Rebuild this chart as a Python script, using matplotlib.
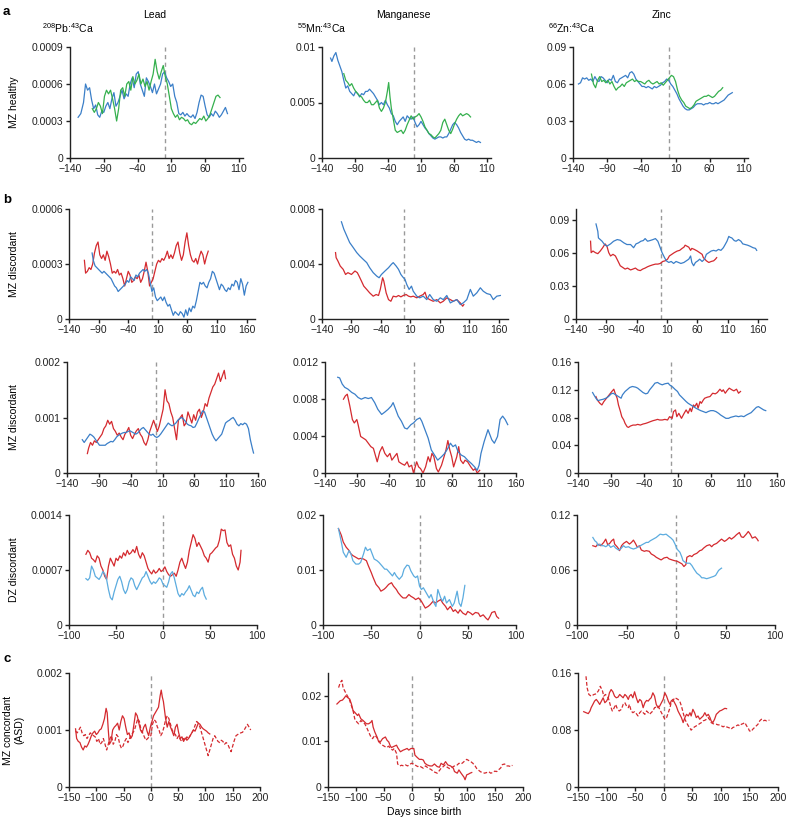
import matplotlib
matplotlib.use('Agg')
import matplotlib.pyplot as plt

plt.rcParams['font.family'] = ['Liberation Sans', 'DejaVu Sans']
plt.rcParams['mathtext.fontset'] = 'custom'
plt.rcParams['mathtext.rm'] = 'Liberation Sans'
plt.rcParams['mathtext.it'] = 'Liberation Sans:italic'
plt.rcParams['mathtext.bf'] = 'Liberation Sans:bold'

# ---------------- data ----------------
col_titles = ['Lead', 'Manganese', 'Zinc']
ion_labels = [r'$^{208}$Pb:$^{43}$Ca', r'$^{55}$Mn:$^{43}$Ca', r'$^{66}$Zn:$^{43}$Ca']
row_labels = ['MZ healthy', 'MZ discordant', 'MZ discordant', 'DZ discordant', 'MZ concordant\n(ASD)']
x_label = 'Days since birth'

xt_a = [-140, -90, -40, 10, 60, 110]
xt_b1 = [-140, -90, -40, 10, 60, 110, 160]
xt_b2 = [-140, -90, -40, 10, 60, 110, 160]
xt_b3 = [-100, -50, 0, 50, 100]
xt_c = [-150, -100, -50, 0, 50, 100, 150, 200]

yt_a_pb = ['0', '0.0003', '0.0006', '0.0009']
yt_a_mn = ['0', '0.005', '0.01']
yt_a_zn = ['0', '0.03', '0.06', '0.09']
yt_b1_pb = ['0', '0.0003', '0.0006']
yt_b1_mn = ['0', '0.004', '0.008']
yt_b1_zn = ['0', '0.03', '0.06', '0.09']
yt_b2_pb = ['0', '0.001', '0.002']
yt_b2_mn = ['0', '0.004', '0.008', '0.012']
yt_b2_zn = ['0', '0.04', '0.08', '0.12', '0.16']
yt_b3_pb = ['0', '0.0007', '0.0014']
yt_b3_mn = ['0', '0.01', '0.02']
yt_b3_zn = ['0', '0.06', '0.12']
yt_c_pb = ['0', '0.001', '0.002']
yt_c_mn = ['0', '0.01', '0.02']
yt_c_zn = ['0', '0.08', '0.16']

# row a: MZ healthy (blue / green twin)
a_pb_blue = [(-128,.00033),(-124,.00036),(-120,.00045),(-117,.00060),(-114,.00055),(-111,.00057),(-108,.00047),(-105,.00040),(-102,.00043),(-99,.00035),(-96,.00033),(-93,.00038),(-90,.00037),(-87,.00042),(-84,.00045),(-81,.00040),(-78,.00048),(-75,.00053),(-72,.00042),(-69,.00045),(-66,.00050),(-63,.00055),(-60,.00048),(-57,.00052),(-54,.00050),(-51,.00060),(-48,.00065),(-45,.00057),(-42,.00068),(-39,.00070),(-36,.00060),(-33,.00055),(-30,.00050),(-27,.00065),(-24,.00062),(-21,.00058),(-18,.00053),(-15,.00060),(-12,.00052),(-9,.00056),(-6,.00060),(-3,.00068),(0,.00070),(3,.00065),(6,.00062),(9,.00058),(12,.00060),(15,.00050),(18,.00045),(21,.00036),(24,.00035),(27,.00037),(30,.00034),(33,.00036),(36,.00034),(39,.00033),(42,.00035),(45,.00032),(48,.00037),(51,.00045),(54,.00051),(57,.00050),(60,.00042),(63,.00035),(66,.00033),(69,.00036),(72,.00034),(75,.00038),(78,.00036),(81,.00033),(84,.00035),(87,.00038),(90,.00041),(93,.00036)]
a_pb_green = [(-107,.00040),(-104,.00037),(-101,.00040),(-98,.00045),(-95,.00042),(-92,.00036),(-89,.00050),(-86,.00055),(-83,.00052),(-80,.00055),(-77,.00048),(-74,.00040),(-71,.00030),(-68,.00040),(-65,.00055),(-62,.00057),(-59,.00050),(-56,.00060),(-53,.00062),(-50,.00055),(-47,.00066),(-44,.00060),(-41,.00063),(-38,.00068),(-35,.00060),(-32,.00064),(-29,.00058),(-26,.00062),(-23,.00055),(-20,.00062),(-17,.00068),(-14,.00080),(-11,.00070),(-8,.00064),(-5,.00070),(-2,.00075),(1,.00066),(4,.00060),(7,.00050),(10,.00040),(13,.00036),(16,.00033),(19,.00035),(22,.00031),(25,.00033),(28,.00032),(31,.00030),(34,.00031),(37,.00028),(40,.00027),(43,.00029),(46,.00028),(49,.00030),(52,.00032),(55,.00031),(58,.00034),(61,.00030),(64,.00032),(67,.00035),(70,.00040),(73,.00045),(76,.00050),(79,.00051),(82,.00049)]
a_mn_blue = [(-127,.0090),(-125,.0087),(-122,.0092),(-119,.0095),(-116,.0088),(-113,.0083),(-110,.0078),(-107,.0070),(-104,.0063),(-101,.0065),(-98,.0060),(-95,.0058),(-92,.0056),(-89,.0060),(-86,.0058),(-83,.0055),(-80,.0058),(-77,.0057),(-74,.0060),(-71,.0060),(-68,.0062),(-65,.0060),(-62,.0058),(-59,.0055),(-56,.0052),(-53,.0048),(-50,.0050),(-47,.0048),(-44,.0052),(-41,.0048),(-38,.0045),(-35,.0040),(-32,.0038),(-29,.0033),(-26,.0030),(-23,.0033),(-20,.0035),(-17,.0037),(-14,.0033),(-11,.0038),(-8,.0036),(-5,.0035),(-2,.0037),(1,.0032),(4,.0028),(7,.0030),(10,.0033),(13,.0030),(16,.0027),(19,.0025),(22,.0022),(25,.0020),(28,.0018),(31,.0017),(34,.0018),(37,.0019),(40,.0019),(43,.0018),(46,.0019),(49,.0019),(52,.0022),(55,.0026),(58,.0030),(61,.0032),(64,.0030),(67,.0027),(70,.0023),(73,.0020),(76,.0017),(79,.0016),(82,.0017),(85,.0016),(88,.0016),(91,.0015),(94,.0014),(97,.0015),(100,.0014)]
a_mn_green = [(-107,.0076),(-104,.0070),(-101,.0068),(-98,.0065),(-95,.0067),(-92,.0063),(-89,.0060),(-86,.0058),(-83,.0056),(-80,.0055),(-77,.0052),(-74,.0050),(-71,.0050),(-68,.0052),(-65,.0048),(-62,.0048),(-59,.0050),(-56,.0052),(-53,.0045),(-50,.0042),(-47,.0045),(-44,.0050),(-41,.0060),(-39,.0068),(-37,.0055),(-35,.0045),(-32,.0035),(-29,.0025),(-26,.0023),(-23,.0024),(-20,.0025),(-17,.0022),(-14,.0025),(-11,.0030),(-8,.0034),(-5,.0038),(-2,.0035),(1,.0037),(4,.0038),(7,.0040),(10,.0037),(13,.0033),(16,.0028),(19,.0025),(22,.0022),(25,.0021),(28,.0019),(31,.0018),(34,.0020),(37,.0022),(40,.0025),(43,.0032),(46,.0035),(49,.0030),(52,.0025),(55,.0022),(58,.0026),(61,.0031),(64,.0035),(67,.0038),(70,.0040),(73,.0038),(76,.0039),(79,.0040),(82,.0039),(85,.0037)]
a_zn_blue = [(-132,.060),(-129,.061),(-126,.065),(-123,.064),(-120,.065),(-117,.063),(-114,.064),(-111,.062),(-108,.066),(-105,.063),(-102,.062),(-99,.066),(-96,.065),(-93,.063),(-90,.061),(-87,.064),(-84,.063),(-81,.067),(-78,.062),(-75,.061),(-72,.064),(-69,.065),(-66,.066),(-63,.067),(-60,.065),(-57,.069),(-54,.070),(-51,.068),(-48,.064),(-45,.062),(-42,.060),(-39,.058),(-36,.058),(-33,.057),(-30,.058),(-27,.057),(-24,.056),(-21,.058),(-18,.057),(-15,.058),(-12,.059),(-9,.061),(-6,.062),(-3,.064),(0,.063),(3,.060),(6,.058),(9,.055),(12,.052),(15,.048),(18,.045),(21,.042),(24,.040),(27,.039),(30,.039),(33,.040),(36,.041),(39,.043),(42,.044),(45,.044),(48,.044),(51,.043),(54,.044),(57,.044),(60,.045),(63,.044),(66,.044),(69,.045),(72,.044),(75,.045),(78,.046),(81,.047),(84,.049),(87,.051),(90,.052),(93,.053)]
a_zn_green = [(-113,.068),(-110,.060),(-107,.057),(-104,.063),(-101,.066),(-98,.062),(-95,.063),(-92,.061),(-89,.063),(-86,.060),(-83,.062),(-80,.058),(-77,.055),(-74,.057),(-71,.058),(-68,.060),(-65,.058),(-62,.061),(-59,.062),(-56,.063),(-53,.064),(-50,.062),(-47,.063),(-44,.062),(-41,.062),(-38,.061),(-35,.060),(-32,.062),(-29,.063),(-26,.061),(-23,.060),(-20,.061),(-17,.062),(-14,.060),(-11,.061),(-8,.059),(-5,.061),(-2,.063),(1,.065),(4,.067),(7,.066),(10,.062),(13,.055),(16,.050),(19,.047),(22,.045),(25,.042),(28,.041),(31,.040),(34,.041),(37,.043),(40,.046),(43,.047),(46,.048),(49,.049),(52,.050),(55,.050),(58,.051),(61,.050),(64,.049),(67,.050),(70,.052),(73,.054),(76,.055),(79,.057)]

# row b1: MZ discordant pair 1 (red / blue)
b1_pb_red = [(-114,.00032),(-112,.00025),(-109,.00026),(-106,.00028),(-103,.00027),(-100,.00030),(-97,.00036),(-94,.00040),(-91,.00042),(-88,.00035),(-85,.00033),(-82,.00035),(-79,.00032),(-76,.00037),(-73,.00034),(-70,.00030),(-67,.00025),(-64,.00026),(-61,.00025),(-58,.00027),(-55,.00024),(-52,.00025),(-49,.00022),(-46,.00018),(-43,.00022),(-40,.00026),(-37,.00024),(-34,.00020),(-31,.00021),(-28,.00023),(-25,.00022),(-22,.00024),(-19,.00020),(-16,.00022),(-13,.00026),(-10,.00031),(-7,.00026),(-4,.00018),(-1,.00020),(2,.00022),(5,.00026),(8,.00030),(11,.00032),(14,.00031),(17,.00033),(20,.00032),(23,.00034),(26,.00037),(29,.00033),(32,.00035),(35,.00033),(38,.00036),(41,.00040),(44,.00042),(47,.00036),(50,.00032),(53,.00035),(56,.00042),(59,.00047),(62,.00040),(65,.00035),(68,.00032),(71,.00031),(74,.00033),(77,.00030),(80,.00034),(83,.00037),(86,.00035),(89,.00030),(92,.00034),(95,.00037)]
b1_pb_blue = [(-101,.00036),(-99,.00032),(-96,.00029),(-93,.00028),(-90,.00027),(-87,.00026),(-84,.00025),(-81,.00026),(-78,.00025),(-75,.00024),(-72,.00023),(-69,.00022),(-66,.00020),(-63,.00018),(-60,.00017),(-57,.00015),(-54,.00016),(-51,.00017),(-48,.00018),(-45,.00019),(-42,.00021),(-39,.00020),(-36,.00023),(-33,.00022),(-30,.00021),(-27,.00024),(-24,.00023),(-21,.00025),(-18,.00026),(-15,.00027),(-12,.00026),(-9,.00027),(-6,.00025),(-3,.00020),(0,.00015),(3,.00017),(6,.00012),(9,.00010),(12,.00011),(15,.00012),(18,.00010),(21,.00012),(24,.00009),(27,.00007),(30,.00008),(33,.00005),(36,.00002),(39,.00004),(42,.00003),(45,.00002),(48,.00004),(51,.00003),(54,.00001),(57,.00005),(60,.00002),(63,.00006),(66,.00004),(69,.00007),(72,.00006),(75,.00010),(78,.00015),(81,.00020),(84,.00019),(87,.00020),(90,.00018),(93,.00017),(96,.00020),(99,.00022),(102,.00026),(105,.00025),(108,.00022),(111,.00019),(114,.00016),(117,.00019),(120,.00018),(123,.00016),(126,.00015),(129,.00017),(132,.00016),(135,.00019),(138,.00018),(141,.00021),(144,.00020),(147,.00016),(150,.00022),(153,.00019),(156,.00013),(159,.00018),(162,.00020)]
b1_mn_red = [(-117,.00483),(-116,.00446),(-113,.00422),(-109,.00385),(-104,.00361),(-100,.00324),(-96,.00337),(-90,.00324),(-84,.00349),(-80,.00337),(-77,.00312),(-73,.00276),(-69,.00239),(-64,.00215),(-59,.0019),(-53,.00166),(-48,.00178),(-44,.00171),(-41,.00215),(-37,.0030),(-35,.00276),(-31,.0019),(-27,.00141),(-23,.00129),(-19,.00166),(-14,.00161),(-10,.00171),(-6,.00161),(-2,.00171),(3,.00178),(7,.00166),(11,.00161),(15,.00166),(21,.00154),(26,.00166),(32,.00178),(35,.00195),(38,.00154),(43,.00141),(49,.00129),(55,.00141),(61,.00117),(66,.00129),(72,.00154),(78,.00141),(83,.00129),(89,.00141),(95,.00117),(99,.00093),(101,.00105)]
b1_mn_blue = [(-107,.00707),(-103,.00654),(-98,.00605),(-93,.00556),(-87,.0052),(-81,.00483),(-76,.00459),(-70,.00434),(-64,.0041),(-59,.00373),(-53,.00337),(-47,.00312),(-43,.0030),(-39,.00324),(-33,.00349),(-27,.00373),(-22,.00398),(-19,.0041),(-14,.00385),(-10,.00361),(-6,.00324),(-3,.00307),(1,.00288),(4,.00251),(8,.00215),(12,.00239),(15,.00202),(21,.00166),(26,.00154),(32,.00166),(38,.00141),(43,.00178),(49,.00141),(55,.00129),(61,.00154),(66,.00141),(72,.00171),(78,.00117),(83,.00129),(89,.00141),(95,.00105),(100,.00117),(106,.00141),(112,.00215),(117,.00166),(123,.0019),(129,.00227),(134,.00202),(140,.00185),(146,.00178),(151,.00141),(157,.00166),(163,.00171)]
b1_zn_red = [(-116,.0707),(-115,.0603),(-112,.0618),(-108,.0603),(-104,.0594),(-100,.0618),(-96,.0648),(-92,.0683),(-89,.0662),(-86,.0603),(-83,.0573),(-79,.0588),(-75,.0573),(-71,.0529),(-67,.0484),(-63,.0469),(-59,.0454),(-55,.0463),(-50,.0446),(-46,.0454),(-42,.0463),(-38,.0446),(-34,.044),(-30,.0454),(-26,.0463),(-22,.0475),(-18,.0484),(-13,.0493),(-9,.0499),(-5,.0499),(-1,.0505),(3,.0523),(7,.0529),(11,.0544),(14,.0573),(18,.0588),(22,.0603),(27,.0618),(31,.0624),(35,.0642),(38,.0653),(40,.0671),(43,.0662),(46,.0653),(49,.0624),(51,.0642),(55,.0633),(60,.0618),(64,.0603),(68,.0588),(70,.0558),(75,.0529),(79,.0514),(83,.0523),(87,.0529),(90,.0544),(92,.0558)]
b1_zn_blue = [(-107,.0864),(-104,.0796),(-103,.0737),(-100,.0722),(-97,.0707),(-93,.0677),(-89,.0662),(-83,.0683),(-78,.0707),(-72,.0722),(-67,.0716),(-61,.0692),(-56,.0677),(-50,.0677),(-45,.0648),(-41,.0683),(-37,.0692),(-33,.0707),(-29,.0713),(-26,.0731),(-22,.0707),(-18,.0713),(-13,.0722),(-9,.0731),(-5,.0707),(-2,.0662),(2,.0603),(6,.0558),(9,.0529),(13,.0514),(17,.0523),(21,.0505),(25,.0523),(29,.0514),(33,.0505),(38,.0514),(42,.0529),(46,.0544),(49,.0573),(51,.0514),(54,.0484),(57,.0514),(61,.0529),(64,.0544),(68,.0523),(72,.0544),(75,.0588),(79,.0603),(83,.0618),(87,.0624),(91,.0618),(95,.0633),(99,.0624),(103,.0648),(106,.0677),(109,.0707),(112,.0751),(114,.0743),(117,.0737),(121,.0713),(124,.0707),(128,.0722),(132,.0707),(135,.0683),(139,.0677),(143,.0671),(147,.0662),(152,.0648),(156,.0642),(158,.0624)]

# row b2: MZ discordant pair 2 (red / blue)
b2_pb_red = [(-108,.00035),(-106,.00045),(-103,.00055),(-100,.00050),(-97,.00058),(-94,.00055),(-91,.00060),(-88,.00065),(-85,.00070),(-82,.00080),(-79,.00085),(-76,.00095),(-73,.00088),(-70,.00093),(-67,.00080),(-64,.00075),(-61,.00068),(-58,.00072),(-55,.00065),(-52,.00060),(-49,.00070),(-46,.00075),(-43,.00082),(-40,.00068),(-37,.00062),(-34,.00070),(-31,.00076),(-28,.00080),(-25,.00070),(-22,.00065),(-19,.00055),(-16,.00050),(-13,.00060),(-10,.00075),(-7,.00085),(-4,.00095),(-1,.00085),(2,.00075),(5,.00085),(8,.00100),(11,.00115),(14,.00150),(17,.00130),(20,.00125),(23,.00110),(26,.00100),(29,.00080),(32,.00060),(35,.00095),(38,.00100),(41,.00105),(44,.00085),(47,.00090),(50,.00110),(53,.00100),(56,.00090),(59,.00105),(62,.00095),(65,.00110),(68,.00115),(71,.00100),(74,.00110),(77,.00125),(80,.00120),(83,.00135),(86,.00145),(89,.00155),(92,.00160),(95,.00170),(98,.00180),(101,.00165),(104,.00175),(107,.00185),(109,.00170)]
b2_pb_blue = [(-116,.00060),(-113,.00055),(-110,.00060),(-107,.00065),(-104,.00070),(-101,.00068),(-98,.00065),(-95,.00060),(-92,.00055),(-89,.00050),(-86,.00050),(-83,.00050),(-80,.00050),(-77,.00053),(-74,.00055),(-71,.00057),(-68,.00056),(-65,.00060),(-62,.00065),(-59,.00068),(-56,.00070),(-53,.00072),(-50,.00073),(-47,.00073),(-44,.00075),(-41,.00076),(-38,.00074),(-35,.00072),(-32,.00070),(-29,.00072),(-26,.00076),(-23,.00080),(-20,.00082),(-17,.00078),(-14,.00074),(-11,.00070),(-8,.00068),(-5,.00070),(-2,.00066),(1,.00064),(4,.00066),(7,.00070),(10,.00075),(13,.00080),(16,.00085),(19,.00090),(22,.00087),(25,.00085),(28,.00087),(31,.00090),(34,.00095),(37,.00098),(40,.00100),(43,.00097),(46,.00093),(49,.00088),(52,.00086),(55,.00085),(58,.00082),(61,.00083),(64,.00090),(67,.00098),(70,.00105),(73,.00112),(76,.00110),(79,.00100),(82,.00090),(85,.00080),(88,.00070),(91,.00063),(94,.00058),(97,.00062),(100,.00066),(103,.00070),(106,.00080),(109,.00090),(112,.00093),(115,.00095),(118,.00098),(121,.00100),(124,.00095),(127,.00088),(130,.00085),(133,.00089),(136,.00087),(139,.00090),(142,.00088),(145,.00080),(148,.00060),(151,.00045),(153,.00036)]
b2_mn_red = [(-111,.00798),(-108,.00834),(-105,.00852),(-101,.00724),(-97,.00578),(-94,.00541),(-90,.00578),(-88,.00523),(-84,.00395),(-80,.00377),(-76,.00359),(-72,.00322),(-68,.00285),(-64,.00267),(-61,.00194),(-58,.00121),(-54,.0023),(-50,.00285),(-46,.00212),(-42,.00176),(-38,.00212),(-35,.00139),(-31,.00176),(-27,.00212),(-24,.00121),(-20,.00102),(-15,.00084),(-11,.00121),(-8,.00066),(-4,.00084),(-1,.0),(1,.00048),(4,.00121),(7,.00066),(10,.00048),(14,.0),(18,.00066),(22,.00176),(25,.00121),(28,.00212),(31,.00176),(35,.00048),(38,.00011),(43,.00084),(47,.00176),(50,.00249),(53,.00351),(56,.00249),(59,.00176),(62,.00066),(67,.00176),(70,.00285),(73,.00139),(77,.00102),(80,.00139),(84,.00121),(89,.00066),(93,.00029),(96,.00048),(99,.0),(103,.00029)]
b2_mn_blue = [(-120,.01035),(-117,.01028),(-113,.00962),(-109,.00926),(-104,.00907),(-98,.00871),(-93,.00852),(-88,.00816),(-83,.00798),(-77,.00816),(-72,.00805),(-67,.00816),(-62,.00761),(-57,.00688),(-51,.00633),(-46,.00659),(-41,.00688),(-36,.00724),(-33,.00761),(-29,.00688),(-25,.00615),(-20,.0056),(-15,.00487),(-11,.00476),(-5,.00523),(-1,.00541),(4,.00578),(9,.00596),(12,.0056),(17,.00468),(22,.00377),(27,.00249),(32,.00194),(37,.00139),(43,.00176),(48,.00212),(53,.00267),(57,.00322),(61,.00285),(65,.00304),(69,.0023),(74,.00194),(79,.00176),(84,.00139),(90,.00102),(95,.00066),(99,.00029),(102,.00084),(105,.00212),(110,.0034),(116,.00468),(118,.00432),(122,.00359),(126,.00322),(131,.00395),(135,.00578),(139,.00615),(143,.00578),(147,.00523)]
b2_zn_red = [(-113,.1102),(-111,.1054),(-107,.1005),(-104,.0981),(-101,.1030),(-97,.1078),(-93,.1126),(-89,.1175),(-86,.1208),(-84,.1150),(-81,.1078),(-79,.0981),(-76,.0885),(-74,.0812),(-71,.0764),(-69,.0715),(-66,.0667),(-64,.0657),(-61,.0677),(-57,.0691),(-53,.0691),(-50,.0701),(-46,.0691),(-42,.0706),(-38,.0715),(-35,.0725),(-31,.0740),(-27,.0754),(-23,.0764),(-20,.0773),(-17,.0764),(-13,.0764),(-9,.0773),(-5,.0764),(-2,.0812),(2,.0788),(4,.0885),(7,.0909),(9,.0812),(12,.0860),(16,.0788),(20,.0860),(23,.0909),(26,.0860),(29,.0933),(31,.0885),(34,.0981),(36,.0957),(39,.1005),(41,.0933),(44,.1030),(46,.1005),(49,.1054),(51,.1078),(55,.1093),(59,.1102),(63,.1150),(67,.1141),(70,.1160),(74,.1208),(77,.1175),(79,.1199),(82,.1150),(85,.1190),(88,.1223),(92,.1199),(95,.1184),(99,.1208),(102,.1150),(105,.1175)]
b2_zn_blue = [(-118,.1160),(-116,.1126),(-113,.1078),(-110,.1044),(-106,.1054),(-102,.1063),(-98,.1078),(-94,.1102),(-90,.1141),(-87,.1150),(-83,.1126),(-79,.1102),(-75,.1078),(-73,.1126),(-69,.1175),(-65,.1208),(-62,.1233),(-58,.1247),(-53,.1237),(-50,.1223),(-47,.1199),(-42,.1160),(-38,.1141),(-35,.1150),(-32,.1199),(-27,.1257),(-24,.1295),(-20,.1305),(-17,.1286),(-13,.1271),(-9,.1286),(-4,.1295),(-2,.1271),(3,.1237),(6,.1208),(10,.1175),(13,.1126),(18,.1078),(23,.1030),(26,.1005),(30,.0981),(34,.0957),(38,.0933),(41,.0918),(45,.0899),(49,.0885),(53,.0870),(56,.0885),(60,.0899),(64,.0899),(68,.0885),(72,.0860),(75,.0836),(79,.0812),(83,.0788),(87,.0788),(90,.0802),(94,.0812),(98,.0822),(102,.0812),(106,.0822),(110,.0812),(114,.0836),(117,.0851),(121,.0870),(125,.0909),(129,.0947),(132,.0957),(136,.0933),(140,.0909),(143,.0899)]

# row b3: DZ discordant (red / light blue)
b3_pb_red = [(-82,.00090),(-80,.00095),(-78,.00092),(-76,.00085),(-74,.00083),(-72,.00080),(-70,.00088),(-68,.00085),(-66,.00075),(-64,.00070),(-62,.00062),(-60,.00058),(-58,.00075),(-56,.00085),(-54,.00080),(-52,.00075),(-50,.00085),(-48,.00082),(-46,.00088),(-44,.00085),(-42,.00092),(-40,.00088),(-38,.00095),(-36,.00090),(-34,.00092),(-32,.00096),(-30,.00092),(-28,.00100),(-26,.00090),(-24,.00085),(-22,.00092),(-20,.00088),(-18,.00080),(-16,.00072),(-14,.00068),(-12,.00065),(-10,.00070),(-8,.00066),(-6,.00068),(-4,.00072),(-2,.00068),(0,.00070),(2,.00074),(4,.00068),(6,.00064),(8,.00062),(10,.00064),(12,.00066),(14,.00062),(16,.00070),(18,.00080),(20,.00085),(22,.00078),(24,.00072),(26,.00080),(28,.00095),(30,.00105),(32,.00115),(34,.00110),(36,.00100),(38,.00105),(40,.00100),(42,.00095),(44,.00088),(46,.00085),(48,.00080),(50,.00090),(52,.00092),(54,.00095),(56,.00098),(58,.00100),(60,.00108),(62,.00122),(64,.00120),(66,.00121),(68,.00105),(70,.00100),(72,.00102),(74,.00090),(76,.00085),(78,.00075),(80,.00070),(82,.00080),(83,.00095)]
b3_pb_blue = [(-82,.00059),(-80,.00057),(-78,.00060),(-76,.00075),(-74,.00070),(-72,.00062),(-70,.00060),(-68,.00058),(-66,.00062),(-64,.00068),(-62,.00065),(-60,.00058),(-58,.00045),(-56,.00035),(-54,.00032),(-52,.00042),(-50,.00050),(-48,.00058),(-46,.00062),(-44,.00055),(-42,.00045),(-40,.00040),(-38,.00045),(-36,.00055),(-34,.00060),(-32,.00058),(-30,.00050),(-28,.00045),(-26,.00050),(-24,.00055),(-22,.00060),(-20,.00062),(-18,.00068),(-16,.00062),(-14,.00056),(-12,.00052),(-10,.00055),(-8,.00053),(-6,.00056),(-4,.00060),(-2,.00058),(0,.00052),(2,.00050),(4,.00048),(6,.00055),(8,.00065),(10,.00068),(12,.00060),(14,.00050),(16,.00040),(18,.00036),(20,.00040),(22,.00038),(24,.00042),(26,.00045),(28,.00050),(30,.00044),(32,.00038),(34,.00036),(36,.00042),(38,.00040),(40,.00045),(42,.00048),(44,.00038),(46,.00033)]
b3_mn_red = [(-84,.01754),(-81,.01631),(-79,.01508),(-76,.01415),(-73,.01354),(-71,.01292),(-69,.01262),(-66,.01231),(-63,.012),(-61,.01212),(-58,.012),(-55,.01169),(-53,.01077),(-50,.00954),(-48,.00862),(-45,.00738),(-42,.00677),(-40,.00615),(-37,.00646),(-35,.00677),(-32,.00738),(-29,.00769),(-27,.00708),(-24,.00646),(-22,.00585),(-19,.00523),(-17,.00492),(-14,.00492),(-11,.00554),(-9,.00523),(-6,.00492),(-4,.00462),(-1,.00492),(2,.00431),(4,.00369),(6,.00308),(9,.00338),(11,.00369),(14,.00431),(17,.004),(19,.00431),(22,.00462),(24,.004),(27,.00338),(29,.00277),(32,.00338),(35,.00246),(37,.00277),(40,.00215),(42,.00277),(45,.00215),(48,.00185),(50,.00246),(53,.00215),(55,.00185),(58,.00228),(61,.00215),(63,.00154),(66,.00185),(69,.00123),(71,.00092),(73,.00154),(75,.00228),(78,.00246),(80,.00154),(82,.00123)]
b3_mn_blue = [(-84,.01754),(-81,.01508),(-79,.01323),(-76,.01231),(-73,.01354),(-71,.01292),(-69,.01169),(-66,.01108),(-63,.01108),(-61,.01138),(-58,.01292),(-56,.01415),(-54,.01354),(-51,.01385),(-49,.01292),(-47,.012),(-44,.01169),(-42,.01138),(-39,.01077),(-36,.01015),(-34,.01015),(-31,.00954),(-28,.00892),(-26,.00954),(-24,.00892),(-21,.00831),(-18,.00892),(-16,.01015),(-13,.01089),(-11,.01077),(-9,.00985),(-6,.00892),(-4,.00862),(-2,.00892),(0,.00708),(2,.00646),(4,.00677),(7,.00585),(10,.00492),(12,.00554),(15,.004),(17,.00338),(19,.00646),(22,.00492),(24,.00431),(26,.00523),(28,.004),(31,.00462),(34,.00338),(36,.004),(39,.00615),(41,.004),(43,.00338),(45,.00492),(47,.0072)]
b3_zn_red = [(-84,.0865),(-81,.0854),(-79,.0883),(-76,.0865),(-73,.0901),(-71,.0937),(-69,.0876),(-67,.0890),(-65,.0919),(-63,.0937),(-62,.0883),(-59,.0847),(-57,.0811),(-55,.0865),(-53,.0890),(-50,.0912),(-47,.0883),(-45,.0901),(-43,.0926),(-41,.0890),(-39,.0847),(-37,.0865),(-35,.0818),(-32,.0804),(-30,.0811),(-27,.0804),(-25,.0775),(-22,.0757),(-20,.0739),(-17,.0721),(-15,.0710),(-12,.0732),(-9,.0739),(-7,.0721),(-4,.0710),(-2,.0703),(1,.0696),(3,.0685),(6,.0667),(8,.0638),(10,.0659),(11,.0739),(14,.0757),(16,.0746),(18,.0768),(21,.0782),(24,.0811),(26,.0818),(28,.0840),(31,.0865),(34,.0876),(36,.0854),(38,.0876),(41,.0890),(44,.0919),(46,.0937),(49,.0912),(51,.0926),(54,.0955),(56,.0937),(59,.0962),(61,.0984),(64,.1009),(66,.0962),(68,.0955),(71,.0991),(73,.1020),(75,.0991),(77,.0948),(80,.0962),(82,.0937),(83,.0919)]
b3_zn_blue = [(-84,.0955),(-82,.0919),(-80,.0901),(-79,.0865),(-77,.0883),(-75,.0865),(-73,.0865),(-71,.0854),(-68,.0876),(-66,.0847),(-63,.0865),(-61,.0840),(-58,.0818),(-56,.0829),(-53,.0865),(-51,.0847),(-48,.0854),(-46,.0840),(-43,.0829),(-40,.0840),(-38,.0854),(-36,.0865),(-33,.0883),(-30,.0901),(-28,.0901),(-26,.0919),(-23,.0937),(-20,.0955),(-18,.0973),(-16,.0991),(-13,.0984),(-10,.0991),(-8,.0973),(-5,.0948),(-3,.0926),(-1,.0883),(1,.0829),(4,.0793),(6,.0739),(7,.0703),(9,.0685),(11,.0674),(14,.0674),(16,.0649),(18,.0613),(21,.0566),(24,.0541),(26,.0515),(28,.0515),(31,.0505),(34,.0515),(36,.0523),(38,.0530),(40,.0541),(43,.0595),(45,.0613),(46,.0620)]

# row c: MZ concordant ASD (solid / dashed red)
c_pb_solid = [(-138,.00102),(-136,.00085),(-133,.00080),(-130,.00078),(-127,.00070),(-124,.00065),(-121,.00072),(-118,.00070),(-115,.00075),(-112,.00082),(-109,.00090),(-106,.00095),(-103,.00098),(-100,.00092),(-97,.00095),(-94,.00100),(-91,.00102),(-88,.00110),(-85,.00120),(-82,.00138),(-80,.00130),(-78,.00100),(-76,.00075),(-73,.00080),(-70,.00100),(-67,.00105),(-64,.00108),(-61,.00112),(-58,.00100),(-55,.00115),(-52,.00125),(-49,.00120),(-46,.00105),(-43,.00092),(-40,.00095),(-37,.00085),(-34,.00090),(-31,.00110),(-28,.00130),(-25,.00125),(-22,.00112),(-19,.00100),(-16,.00095),(-13,.00105),(-10,.00110),(-7,.00098),(-4,.00090),(-1,.00105),(2,.00115),(5,.00125),(8,.00130),(11,.00135),(14,.00140),(17,.00160),(19,.00170),(21,.00158),(23,.00150),(25,.00135),(27,.00120),(30,.00105),(33,.00115),(36,.00105),(39,.00098),(42,.00090),(45,.00105),(48,.00110),(51,.00095),(54,.00085),(57,.00088),(60,.00080),(63,.00086),(66,.00082),(69,.00085),(72,.00090),(75,.00095),(78,.00100),(81,.00098),(84,.00105),(87,.00112),(90,.00110),(93,.00105),(96,.00102),(99,.00100),(102,.00098),(105,.00095),(108,.00093)]
c_pb_dashed = [(-138,.00098),(-135,.00095),(-132,.00100),(-129,.00105),(-126,.00095),(-123,.00090),(-120,.00092),(-117,.00085),(-114,.00090),(-111,.00095),(-108,.00092),(-105,.00090),(-102,.00088),(-99,.00080),(-96,.00085),(-93,.00075),(-90,.00078),(-87,.00085),(-84,.00075),(-81,.00065),(-78,.00075),(-75,.00085),(-72,.00090),(-69,.00075),(-66,.00080),(-63,.00092),(-60,.00088),(-57,.00075),(-54,.00068),(-51,.00072),(-48,.00080),(-45,.00085),(-42,.00078),(-39,.00085),(-36,.00092),(-33,.00095),(-30,.00100),(-27,.00110),(-24,.00120),(-21,.00115),(-18,.00100),(-15,.00095),(-12,.00088),(-9,.00082),(-6,.00085),(-3,.00088),(0,.00090),(3,.00110),(6,.00118),(9,.00115),(12,.00105),(15,.00100),(18,.00090),(21,.00095),(24,.00105),(27,.00118),(30,.00125),(33,.00120),(36,.00110),(39,.00100),(42,.00095),(45,.00092),(48,.00085),(51,.00090),(54,.00083),(57,.00080),(60,.00085),(63,.00082),(66,.00088),(69,.00085),(72,.00090),(75,.00095),(78,.00100),(81,.00108),(84,.00115),(87,.00112),(90,.00105),(93,.00095),(96,.00085),(99,.00075),(102,.00065),(105,.00055),(108,.00065),(111,.00075),(114,.00085),(117,.00090),(120,.00085),(123,.00080),(126,.00078),(129,.00082),(132,.00080),(135,.00075),(138,.00078),(141,.00075),(144,.00068),(147,.00062),(150,.00072),(153,.00082),(156,.00090),(159,.00092),(162,.00094),(165,.00095),(168,.00096),(171,.00100),(174,.00105),(177,.00110),(180,.00105),(183,.00100)]
c_mn_solid = [(-134,.0182),(-131,.01856),(-128,.01892),(-124,.01906),(-121,.01949),(-118,.0200),(-115,.01964),(-111,.01928),(-108,.0182),(-105,.01675),(-102,.01639),(-97,.01567),(-95,.01603),(-91,.01495),(-87,.01458),(-84,.01422),(-81,.01386),(-77,.01386),(-73,.01422),(-71,.01458),(-69,.01314),(-66,.01206),(-62,.01097),(-59,.00989),(-56,.00989),(-52,.01061),(-47,.01097),(-44,.01025),(-41,.00989),(-38,.00895),(-36,.00866),(-31,.00895),(-27,.00917),(-25,.00866),(-20,.00773),(-15,.00809),(-12,.00823),(-8,.00845),(-5,.00809),(-1,.00845),(4,.00845),(6,.0070),(10,.0065),(14,.00606),(18,.00606),(21,.00592),(24,.0052),(28,.00484),(33,.00462),(37,.00462),(41,.00505),(46,.00448),(50,.00433),(53,.0052),(57,.00484),(61,.00556),(65,.00484),(70,.00462),(75,.00412),(77,.00339),(82,.00303),(85,.00375),(88,.00318),(91,.00267),(94,.00217),(96,.00159),(99,.00267),(102,.00282),(105,.00303),(108,.00318)]
c_mn_dashed = [(-131,.0218),(-128,.02289),(-125,.02339),(-123,.0218),(-120,.02108),(-117,.02036),(-112,.01928),(-109,.0182),(-105,.01675),(-102,.01495),(-98,.01422),(-95,.01386),(-91,.01458),(-88,.01422),(-84,.01386),(-81,.01314),(-77,.01206),(-73,.01097),(-70,.01061),(-66,.01134),(-63,.01097),(-59,.01025),(-56,.00953),(-52,.00917),(-49,.00895),(-45,.00866),(-41,.00895),(-38,.00845),(-34,.00809),(-31,.00845),(-27,.00736),(-25,.00505),(-21,.00462),(-18,.00477),(-14,.00462),(-11,.00484),(-7,.00462),(-4,.00491),(0,.0052),(4,.00505),(7,.00477),(11,.00448),(14,.00462),(18,.00433),(21,.00412),(25,.00462),(28,.00433),(32,.00404),(36,.00375),(39,.00339),(43,.00318),(46,.00303),(50,.00361),(53,.00412),(57,.00448),(60,.00484),(64,.00433),(68,.00404),(71,.00412),(75,.00448),(78,.00469),(82,.00484),(85,.0052),(89,.00505),(92,.00534),(96,.00578),(99,.00606),(103,.00578),(107,.00549),(110,.0052),(114,.00462),(117,.00404),(121,.00361),(124,.00332),(128,.00318),(131,.00303),(135,.00318),(139,.00332),(142,.00303),(146,.00318),(149,.00347),(153,.00339),(156,.00375),(160,.00419),(163,.00491),(167,.00505),(170,.00462),(174,.00462),(178,.00448),(181,.00477)]
c_zn_solid = [(-140,.1057),(-136,.1043),(-132,.1030),(-129,.1067),(-127,.1113),(-124,.1159),(-121,.1206),(-118,.1229),(-115,.1197),(-112,.1159),(-109,.1206),(-106,.1252),(-103,.1183),(-100,.1206),(-97,.1252),(-95,.1322),(-92,.1368),(-89,.1336),(-86,.1275),(-83,.1252),(-80,.1261),(-77,.1299),(-74,.1275),(-71,.1252),(-68,.1299),(-65,.1275),(-62,.1229),(-60,.1275),(-57,.1299),(-54,.1252),(-51,.1336),(-48,.1252),(-45,.1183),(-42,.1229),(-39,.1206),(-36,.1113),(-33,.1183),(-30,.1215),(-27,.1206),(-25,.1229),(-22,.1252),(-19,.1322),(-16,.1275),(-13,.1159),(-10,.1113),(-7,.1136),(-4,.1183),(-1,.1229),(2,.1322),(5,.1275),(8,.1206),(11,.1159),(13,.1206),(16,.1229),(19,.1183),(22,.1136),(25,.1067),(28,.1020),(31,.0974),(34,.0904),(37,.0974),(40,.1020),(43,.0997),(46,.1043),(48,.0997),(51,.1090),(54,.1043),(57,.0974),(60,.0997),(63,.0951),(66,.0974),(69,.0997),(72,.1043),(75,.0997),(78,.1020),(81,.0974),(83,.0928),(86,.0904),(89,.0951),(92,.1020),(95,.1043),(98,.1067),(101,.1076),(104,.1090),(107,.1104),(110,.1099)]
c_zn_dashed = [(-136,.1554),(-134,.1391),(-131,.1299),(-127,.1275),(-122,.1299),(-118,.1308),(-114,.1354),(-111,.1414),(-107,.1345),(-105,.1275),(-102,.1299),(-97,.1252),(-93,.1136),(-90,.1067),(-88,.1090),(-84,.1159),(-82,.1113),(-78,.1067),(-74,.1090),(-71,.1159),(-68,.1183),(-65,.1136),(-62,.1113),(-60,.1159),(-57,.1067),(-54,.1043),(-51,.1057),(-48,.1030),(-45,.0997),(-42,.1043),(-39,.1067),(-36,.1043),(-33,.1020),(-30,.1067),(-27,.1043),(-25,.1020),(-22,.1043),(-19,.1067),(-16,.1113),(-13,.1122),(-10,.1136),(-7,.1090),(-4,.1043),(-1,.0997),(2,.0951),(5,.0974),(8,.1043),(11,.1113),(13,.1183),(16,.1206),(19,.1252),(22,.1243),(25,.1229),(28,.1206),(31,.1136),(34,.1043),(37,.0951),(40,.0904),(43,.0858),(46,.0826),(48,.0798),(51,.0826),(54,.0844),(57,.0858),(60,.0872),(63,.0890),(66,.0904),(69,.0928),(72,.0937),(75,.0951),(78,.0974),(81,.0937),(83,.0904),(86,.0890),(89,.0881),(92,.0881),(95,.0872),(98,.0872),(101,.0858),(104,.0844),(107,.0858),(110,.0844),(113,.0835),(116,.0826),(118,.0812),(121,.0835),(124,.0844),(127,.0858),(130,.0872),(133,.0858),(136,.0881),(139,.0890),(142,.0904),(145,.0858),(148,.0826),(150,.0788),(153,.0779),(156,.0812),(159,.0835),(162,.0858),(165,.0881),(168,.0928),(171,.0951),(174,.0928),(177,.0937),(180,.0928),(183,.0937),(185,.0937)]

# ---------------- styling ----------------
BLUE = '#3b7fc8'
LBLUE = '#5cacdf'
GREEN = '#35b04e'
RED = '#d42a2f'
GREY = '#9a9a9a'

W, H = 788, 823
fig = plt.figure(figsize=(W / 100, H / 100), dpi=100)

def add_ax(l, t, r, b):
    return fig.add_axes([l / W, 1 - b / H, (r - l) / W, (b - t) / H])

def unz(pairs):
    return [p[0] for p in pairs], [p[1] for p in pairs]

# (pixel rect, xlim, xticks, ylim, yticklabels, [(series, color, style)])
panels = [
    ((70, 47, 243, 158), (-140, 116), xt_a, 0.0009, yt_a_pb, [(a_pb_blue, BLUE, '-'), (a_pb_green, GREEN, '-')]),
    ((322, 47, 491, 158), (-140, 116), xt_a, 0.01, yt_a_mn, [(a_mn_blue, BLUE, '-'), (a_mn_green, GREEN, '-')]),
    ((573, 47, 748, 158), (-140, 116), xt_a, 0.09, yt_a_zn, [(a_zn_blue, BLUE, '-'), (a_zn_green, GREEN, '-')]),
    ((69, 209, 255, 319), (-140, 174), xt_b1, 0.0006, yt_b1_pb, [(b1_pb_red, RED, '-'), (b1_pb_blue, BLUE, '-')]),
    ((322, 209, 508, 319), (-140, 176), xt_b1, 0.008, yt_b1_mn, [(b1_mn_red, RED, '-'), (b1_mn_blue, BLUE, '-')]),
    ((576, 209, 767, 319), (-140, 175), xt_b1, 0.1, yt_b1_zn, [(b1_zn_red, RED, '-'), (b1_zn_blue, BLUE, '-')]),
    ((67, 362, 258, 473), (-140, 160), xt_b2, 0.002, yt_b2_pb, [(b2_pb_red, RED, '-'), (b2_pb_blue, BLUE, '-')]),
    ((325, 362, 516, 473), (-140, 160), xt_b2, 0.012, yt_b2_mn, [(b2_mn_red, RED, '-'), (b2_mn_blue, BLUE, '-')]),
    ((578, 362, 777, 473), (-140, 160), xt_b2, 0.16, yt_b2_zn, [(b2_zn_red, RED, '-'), (b2_zn_blue, BLUE, '-')]),
    ((69, 515, 257, 625), (-100, 100), xt_b3, 0.0014, yt_b3_pb, [(b3_pb_red, RED, '-'), (b3_pb_blue, LBLUE, '-')]),
    ((323, 515, 516, 625), (-100, 100), xt_b3, 0.02, yt_b3_mn, [(b3_mn_red, RED, '-'), (b3_mn_blue, LBLUE, '-')]),
    ((577, 515, 775, 625), (-100, 100), xt_b3, 0.12, yt_b3_zn, [(b3_zn_red, RED, '-'), (b3_zn_blue, LBLUE, '-')]),
    ((69, 673, 260, 787), (-150, 200), xt_c, 0.002, yt_c_pb, [(c_pb_solid, RED, '-'), (c_pb_dashed, RED, '--')]),
    ((328, 673, 523, 787), (-150, 200), xt_c, 0.025, yt_c_mn, [(c_mn_solid, RED, '-'), (c_mn_dashed, RED, '--')]),
    ((578, 673, 778, 787), (-150, 200), xt_c, 0.16, yt_c_zn, [(c_zn_solid, RED, '-'), (c_zn_dashed, RED, '--')]),
]

for rect, xlim, xticks, ytop, ylabels, series in panels:
    ax = add_ax(*rect)
    ax.axvline(0, color=GREY, lw=1.0, ls=(0, (3, 2.5)), zorder=1)
    for data, color, style in series:
        xs, ys = unz(data)
        if style == '--':
            ax.plot(xs, ys, color=color, lw=0.9, ls=(0, (3, 1.6)), zorder=3)
        else:
            ax.plot(xs, ys, color=color, lw=0.9, zorder=3)
    ax.set_xlim(*xlim)
    ax.set_ylim(0, ytop)
    ax.set_xticks(xticks)
    ax.set_xticklabels([str(v).replace('-', '\u2212') for v in xticks])
    yvals = [float(s) for s in ylabels]
    ax.set_yticks(yvals)
    ax.set_yticklabels(ylabels)
    for s in ('top', 'right'):
        ax.spines[s].set_visible(False)
    for s in ('left', 'bottom'):
        ax.spines[s].set_linewidth(1.0)
        ax.spines[s].set_color('#222222')
    ax.tick_params(direction='out', length=3, width=1.0, labelsize=7.5, pad=1.5, colors='#222222')
    ax.patch.set_alpha(0)

# column titles and ion labels
for cx, title in zip([155, 403, 662], col_titles):
    fig.text(cx / W, 1 - 15 / H, title, ha='center', va='center', fontsize=7.5)
for lx, lab in zip([42, 297, 548], ion_labels):
    fig.text(lx / W, 1 - 28 / H, lab, ha='left', va='center', fontsize=7.5)

# panel letters
for ly, letter in zip([12, 200, 659], ['a', 'b', 'c']):
    fig.text(3 / W, 1 - ly / H, letter, ha='left', va='center', fontsize=9.5, fontweight='bold')

# row labels
for cy, lab in zip([102, 264, 417, 570, 730], row_labels):
    fig.text(14 / W, 1 - cy / H, lab, ha='center', va='center', rotation=90, fontsize=7.5,
             linespacing=1.2)

fig.text(424 / W, 1 - 812 / H, x_label, ha='center', va='center', fontsize=7.5)

fig.savefig('out.png', dpi=100)
